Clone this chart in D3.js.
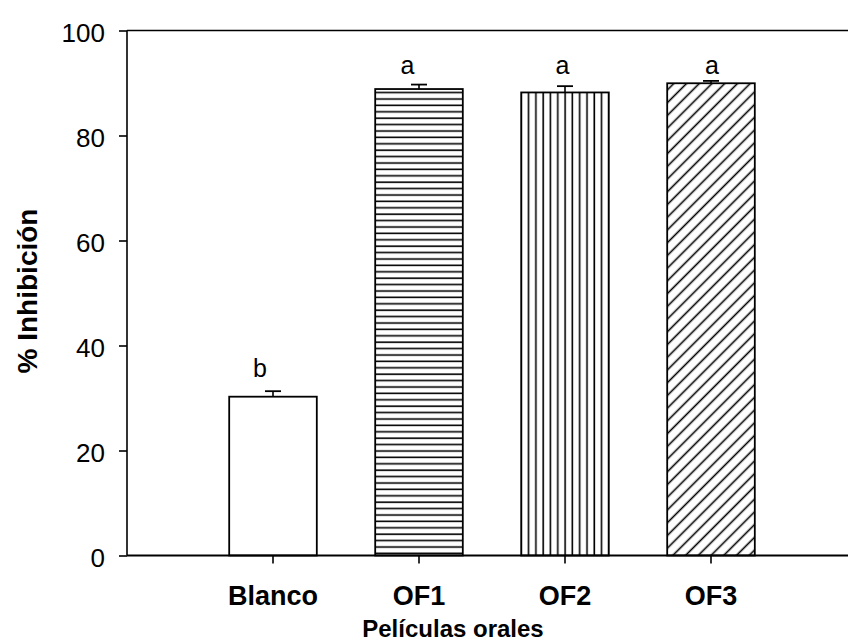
<!DOCTYPE html>
<html>
<head>
<meta charset="utf-8">
<script src="https://cdn.jsdelivr.net/npm/d3@7"></script>
<style>
	body { margin: 0; background: #fff; }
	text { font-family: "Liberation Sans", Arial, sans-serif; fill: #000; }
</style>
</head>
<body>
<svg id="graph"></svg>
<script>

	var categories = ["Blanco", "OF1", "OF2", "OF3"];
	var inhibition = [30.25, 88.85, 88.2, 89.95];
	var errorTop = [31.3, 89.7, 89.4, 90.4];
	var letters = ["b", "a", "a", "a"];
	var letterLevel = [34.0, 91.7, 91.7, 91.7];
	var yTicks = [0, 20, 40, 60, 80, 100];
	var fills = ["white", "url(#hlines)", "url(#vlines)", "url(#diag)"];

	var graphWidth = 848;
	var graphHeight = 643;
	var plotLeft = 127, plotTop = 30.5, plotBottom = 555.5, plotRight = 857;

	var graph = d3.select('#graph')
								.attr("width", graphWidth)
								.attr("height", graphHeight);

	var defs = graph.append("defs");

	defs.append("pattern").attr("id", "hlines")
			.attr("patternUnits", "userSpaceOnUse")
			.attr("width", 10).attr("height", 6.4)
			.append("line")
			.attr("x1", 0).attr("x2", 10).attr("y1", 3).attr("y2", 3)
			.attr("stroke", "#000").attr("stroke-width", 1.6);

	defs.append("pattern").attr("id", "vlines")
			.attr("patternUnits", "userSpaceOnUse")
			.attr("width", 7.3).attr("height", 10)
			.append("line")
			.attr("x1", 3).attr("x2", 3).attr("y1", 0).attr("y2", 10)
			.attr("stroke", "#000").attr("stroke-width", 1.6);

	defs.append("pattern").attr("id", "diag")
			.attr("patternUnits", "userSpaceOnUse")
			.attr("width", 9).attr("height", 9)
			.attr("patternTransform", "rotate(45)")
			.append("line")
			.attr("x1", 4.5).attr("x2", 4.5).attr("y1", 0).attr("y2", 9)
			.attr("stroke", "#000").attr("stroke-width", 1.6);

	var x = d3.scaleBand()
						.domain(categories)
						.range([200, 784])
						.paddingInner(0.4)
						.paddingOuter(0.2);

	var y = d3.scaleLinear()
						.domain([0, 100])
						.range([plotBottom, plotTop]);

	/* frame: left, top and bottom lines, no right one */
	graph.append("line").attr("x1", plotLeft).attr("x2", plotLeft).attr("y1", plotTop).attr("y2", plotBottom)
			.attr("stroke", "#000").attr("stroke-width", 1.6);
	graph.append("line").attr("x1", plotLeft).attr("x2", plotRight).attr("y1", plotTop).attr("y2", plotTop)
			.attr("stroke", "#000").attr("stroke-width", 1.6);

	var yAxis = graph.append("g")
									.attr("transform", "translate(" + plotLeft + ",0)")
									.call(d3.axisLeft(y).tickValues(yTicks).tickSize(8).tickPadding(14).tickSizeOuter(0));
	yAxis.select(".domain").remove();
	yAxis.selectAll(".tick line").attr("stroke-width", 1.6);
	yAxis.selectAll(".tick text").attr("font-size", 26).attr("font-family", null).attr("dy", "0.41em");

	var xAxis = graph.append("g")
									.attr("transform", "translate(0," + plotBottom + ")")
									.call(d3.axisBottom(x).tickSize(8).tickPadding(22).tickSizeOuter(0));
	xAxis.select(".domain").remove();
	xAxis.selectAll(".tick line").attr("stroke-width", 1.6);
	xAxis.selectAll(".tick text").attr("font-size", 27).attr("font-weight", "bold").attr("font-family", null);

	var bars = graph.selectAll(".bar")
								.data(categories)
								.enter().append("rect")
								.attr("class", "bar")
								.attr("x", function(d) { return x(d); })
								.attr("width", x.bandwidth())
								.attr("y", function(d, i) { return y(inhibition[i]); })
								.attr("height", function(d, i) { return y(0) - y(inhibition[i]); })
								.attr("fill", function(d, i) { return fills[i]; })
								.attr("stroke", "#000")
								.attr("stroke-width", 1.8);

	/* upper half of the error bars only */
	graph.selectAll(".err")
			.data(categories)
			.enter().append("line")
			.attr("class", "err")
			.attr("x1", function(d) { return x(d) + x.bandwidth() / 2; })
			.attr("x2", function(d) { return x(d) + x.bandwidth() / 2; })
			.attr("y1", function(d, i) { return y(inhibition[i]); })
			.attr("y2", function(d, i) { return y(errorTop[i]); })
			.attr("stroke", "#000").attr("stroke-width", 1.6);

	graph.selectAll(".cap")
			.data(categories)
			.enter().append("line")
			.attr("class", "cap")
			.attr("x1", function(d) { return x(d) + x.bandwidth() / 2 - 8; })
			.attr("x2", function(d) { return x(d) + x.bandwidth() / 2 + 8; })
			.attr("y1", function(d, i) { return y(errorTop[i]); })
			.attr("y2", function(d, i) { return y(errorTop[i]); })
			.attr("stroke", "#000").attr("stroke-width", 1.8);

	// letters sit a bit off centre in the original
	var letterShift = [-13, -11.5, -2.5, 1];
	graph.selectAll(".letter")
			.data(categories)
			.enter().append("text")
			.attr("class", "letter")
			.attr("x", function(d, i) { return x(d) + x.bandwidth() / 2 + letterShift[i]; })
			.attr("y", function(d, i) { return y(letterLevel[i]); })
			.attr("text-anchor", "middle")
			.attr("font-size", 25)
			.text(function(d, i) { return letters[i]; });

	graph.append("line").attr("x1", plotLeft).attr("x2", plotRight).attr("y1", plotBottom).attr("y2", plotBottom)
			.attr("stroke", "#000").attr("stroke-width", 1.8);

	graph.append("text")
			.attr("x", 453).attr("y", 637)
			.attr("text-anchor", "middle")
			.attr("font-size", 24).attr("font-weight", "bold")
			.text("Películas orales");

	graph.append("text")
			.attr("transform", "translate(37,291) rotate(-90)")
			.attr("text-anchor", "middle")
			.attr("font-size", 28).attr("font-weight", "bold")
			.text("% Inhibición");

</script>
</body>
</html>
